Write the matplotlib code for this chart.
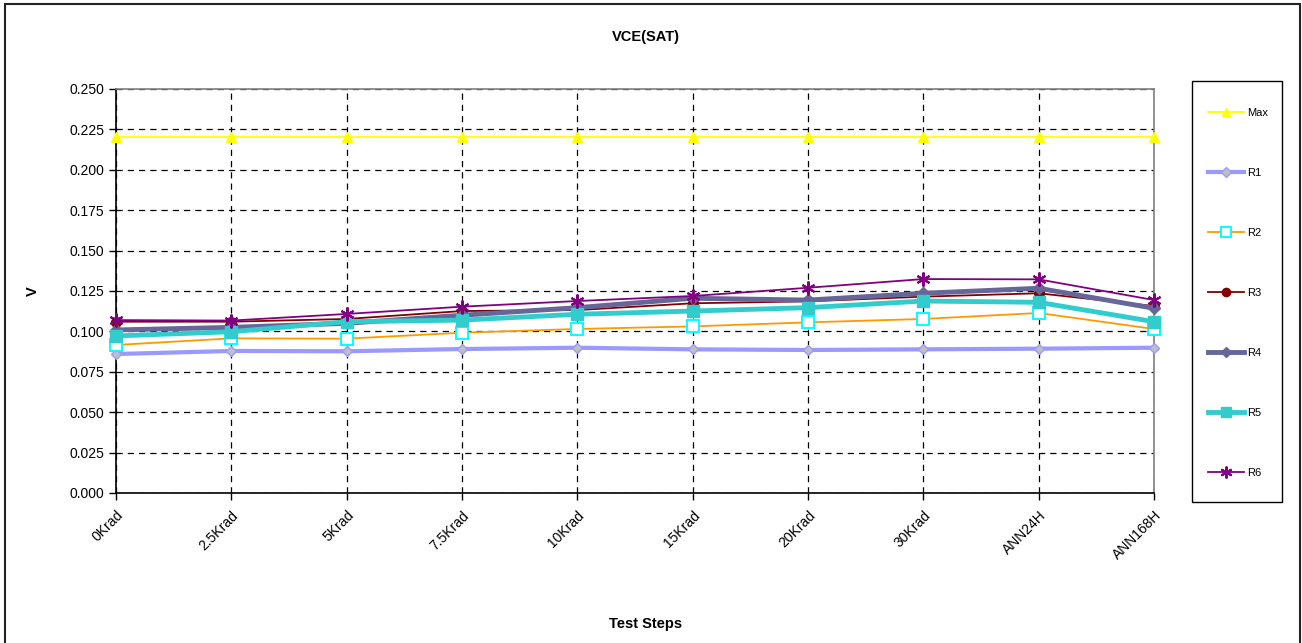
import numpy as np
import matplotlib.pyplot as plt
from matplotlib.patches import Rectangle

plt.rcParams['font.family'] = ['Liberation Sans', 'DejaVu Sans']

# --- Data ---
steps = ["0Krad", "2.5Krad", "5Krad", "7.5Krad", "10Krad", "15Krad",
         "20Krad", "30Krad", "ANN24H", "ANN168H"]
v_max = [0.220] * 10
r1 = [0.0860, 0.0879, 0.0877, 0.0891, 0.0899, 0.0889, 0.0885, 0.0889, 0.0893, 0.0899]
r2 = [0.0916, 0.0957, 0.0955, 0.0992, 0.1015, 0.1031, 0.1056, 0.1077, 0.1114, 0.1015]
r3 = [0.1060, 0.1060, 0.1077, 0.1126, 0.1132, 0.1174, 0.1186, 0.1215, 0.1236, 0.1157]
r4 = [0.1009, 0.1025, 0.1050, 0.1100, 0.1147, 0.1205, 0.1194, 0.1236, 0.1267, 0.1143]
r5 = [0.0972, 0.0998, 0.1060, 0.1070, 0.1106, 0.1126, 0.1147, 0.1188, 0.1180, 0.1060]
r6 = [0.1070, 0.1067, 0.1108, 0.1153, 0.1188, 0.1219, 0.1270, 0.1324, 0.1322, 0.1194]

x = np.arange(len(steps))

# --- Figure ---
fig = plt.figure(figsize=(13.02, 6.43), dpi=100)
ax = fig.add_axes([116 / 1302, 1 - 493 / 643, (1154 - 116) / 1302, (493 - 89) / 643])

ax.plot(x, v_max, color='#FFFF00', lw=1.3, marker='^', ms=7.5,
        mfc='#FFFF00', mec='#FFFF00', label='Max', clip_on=False, zorder=3)
ax.plot(x, r1, color='#9999FF', lw=3, marker='D', ms=5.5,
        mfc='#C0C0C0', mec='#9999FF', mew=1, label='R1', clip_on=False, zorder=3)
ax.plot(x, r2, color='#FF9900', lw=1.3, marker='s', ms=8,
        mfc='white', mec='#00FFFF', mew=1.4, label='R2', clip_on=False, zorder=3)
ax.plot(x, r3, color='#800000', lw=1.3, marker='o', ms=7,
        mfc='#800000', mec='#800000', label='R3', clip_on=False, zorder=3)
ax.plot(x, r4, color='#666699', lw=3.5, marker='D', ms=6.5,
        mfc='#666699', mec='#666699', label='R4', clip_on=False, zorder=3)
ax.plot(x, r5, color='#33CCCC', lw=3.5, marker='s', ms=8,
        mfc='#33CCCC', mec='#33CCCC', label='R5', clip_on=False, zorder=3)
ax.plot(x, r6, color='#800080', lw=1.3, marker=(6, 2, 0), ms=10,
        mfc='#800080', mec='#800080', mew=1.5, label='R6', clip_on=False, zorder=3)

ax.set_xlim(0, len(steps) - 1)
ax.set_ylim(0, 0.25)
yt = np.arange(0, 0.2501, 0.025)
ax.set_yticks(yt)
ax.set_yticklabels([f"{v:.3f}" for v in yt], fontsize=10)
ax.set_xticks(x)
ax.set_xticklabels(steps, fontsize=10, rotation=45, ha='right', rotation_mode='anchor')
ax.tick_params(axis='both', direction='out', length=5, width=1, color='black')
ax.tick_params(axis='x', pad=6)

ax.grid(True, color='black', linestyle=(0, (5, 4)), linewidth=0.9)
ax.set_axisbelow(True)
for side in ['left', 'bottom']:
    ax.spines[side].set_color('black')
    ax.spines[side].set_linewidth(1.2)
for side in ['top', 'right']:
    ax.spines[side].set_color('#808080')
    ax.spines[side].set_linewidth(1.2)

fig.text(646 / 1302, 1 - 37 / 643, "VCE(SAT)", ha='center', va='center',
         fontsize=10.5, fontweight='bold')
fig.text(646 / 1302, 1 - 624 / 643, "Test Steps", ha='center', va='center',
         fontsize=10.5, fontweight='bold')
fig.text(33 / 1302, 1 - 291 / 643, "V", ha='center', va='center',
         fontsize=10.5, fontweight='bold', rotation=90)

# legend entries without frame, box drawn separately
leg = fig.legend(loc='upper left', bbox_to_anchor=(1208 / 1302, 1 - 108 / 643),
                 frameon=False, fontsize=8, labelspacing=4.5, markerscale=0.85,
                 handlelength=3.25, handletextpad=0.27, borderpad=0,
                 borderaxespad=0)
fig.patches.append(Rectangle((1192 / 1302, 1 - 502 / 643), 90 / 1302, 421 / 643,
                             transform=fig.transFigure, fill=False,
                             edgecolor='black', linewidth=1.0))

# outer chart border
fig.patches.append(Rectangle((4.5 / 1302, -0.05), (1299.5 - 4.5) / 1302, 1.05 - 4.5 / 643,
                             transform=fig.transFigure, fill=False,
                             edgecolor='#222222', linewidth=1.5))

fig.savefig("out.png", dpi=100)
